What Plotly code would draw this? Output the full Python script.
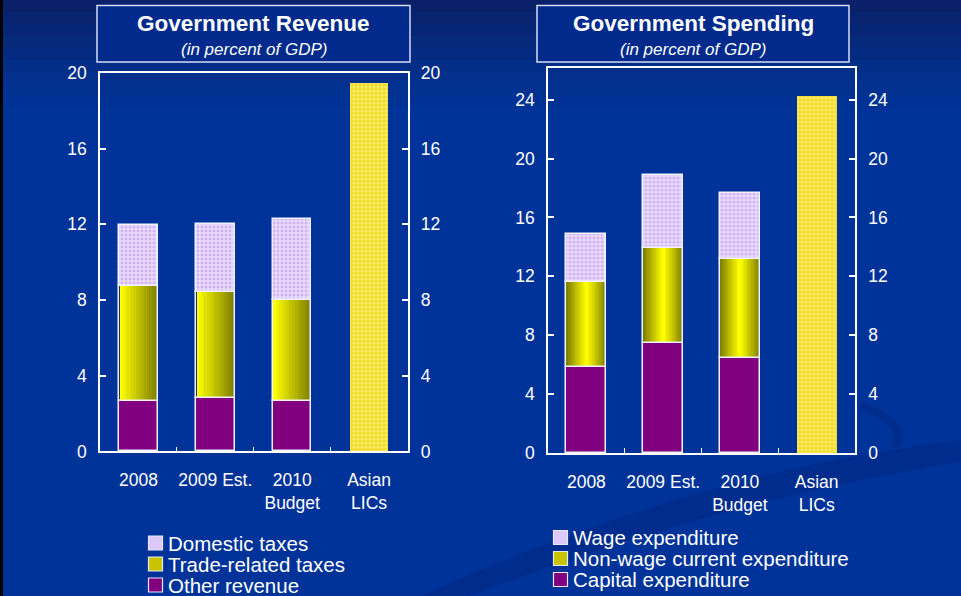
import plotly.graph_objects as go

W, H = 961, 596

# ---- data -------------------------------------------------------------
categories = ["2008", "2009 Est.", "2010<br>Budget", "Asian<br>LICs"]
group_cats = categories[:3]
peer_cat = categories[3:]

# Government revenue (percent of GDP)
rev_other = [2.65, 2.8, 2.65]
rev_trade = [6.1, 5.6, 5.35]
rev_domestic = [3.2, 3.6, 4.3]
rev_asian = [19.45]
rev_ticks = [0, 4, 8, 12, 16, 20]
rev_range = [0, 20]

# Government spending (percent of GDP)
sp_capital = [5.85, 7.45, 6.45]
sp_nonwage = [5.75, 6.5, 6.75]
sp_wage = [3.3, 4.9, 4.45]
sp_asian = [24.25]
sp_ticks = [0, 4, 8, 12, 16, 20, 24]
sp_range = [0, 26.15]

rev_legend = ["Domestic taxes", "Trade-related taxes", "Other revenue"]
sp_legend = ["Wage expenditure", "Non-wage current expenditure", "Capital expenditure"]

# ---- styling ----------------------------------------------------------
FONT = "Liberation Sans, Arial, sans-serif"
BG = "#00339a"
WHITE = "#ffffff"
EDGE = "#f2f2ff"
PURPLE = "#800080"
LAVENDER = "#eadcff"
LAV_DOT = "#b88ae8"
OLIVE = (128, 128, 0)
YELLOW = (255, 255, 0)


def px(x):
    return x / W


def py(y):
    return 1 - y / H


def mix(c1, c2, t):
    return "rgb(%d,%d,%d)" % tuple(round(a + (b - a) * t) for a, b in zip(c1, c2))


fig = go.Figure()


def add_solid(x, y, base, color, xa, ya, bw, pattern=None):
    fig.add_trace(go.Bar(
        x=x, y=y, base=base, width=bw, offset=-bw / 2,
        marker=dict(color=color, line=dict(color=EDGE, width=1.5), pattern=pattern),
        xaxis=xa, yaxis=ya, showlegend=False, hoverinfo="skip"))


def add_gradient(x, y, base, xa, ya, bw, style, steps=14):
    """Shaded segment built from nested bars: 'left' fades yellow->olive
    across the bar, 'cylinder' is olive at both edges, yellow in the middle."""
    for k in range(steps):
        t = k / (steps - 1)
        w = bw * (steps - k) / steps
        if style == "left":
            w = max(w - 0.012, 0.004)
            off = -bw / 2 + 0.012
        else:
            off = -w / 2
        fig.add_trace(go.Bar(
            x=x, y=y, base=base, width=w, offset=off,
            marker=dict(color=mix(OLIVE, YELLOW, t), line=dict(width=0)),
            xaxis=xa, yaxis=ya, showlegend=False, hoverinfo="skip"))
    # outline on top
    fig.add_trace(go.Bar(
        x=x, y=y, base=base, width=bw, offset=-bw / 2,
        marker=dict(color="rgba(0,0,0,0)", line=dict(color=EDGE, width=1.5)),
        xaxis=xa, yaxis=ya, showlegend=False, hoverinfo="skip"))


lav_pattern = dict(shape=".", fgcolor=LAV_DOT, bgcolor=LAVENDER, size=4, solidity=0.45)
peer_pattern = dict(shape=".", fgcolor="#fff6b0", bgcolor="#f2dc2a", size=4, solidity=0.45)

# ---- revenue panel ----
BW1 = 0.5
add_solid(group_cats, rev_other, [0] * 3, PURPLE, "x", "y", BW1)
add_gradient(group_cats, rev_trade, rev_other, "x", "y", BW1, "left")
rev_dom_base = [a + b for a, b in zip(rev_other, rev_trade)]
add_solid(group_cats, rev_domestic, rev_dom_base, LAVENDER, "x", "y", BW1, lav_pattern)
fig.add_trace(go.Bar(x=peer_cat, y=rev_asian, width=BW1, offset=-BW1 / 2,
                     marker=dict(color="#f2dc2a", line=dict(width=0), pattern=peer_pattern),
                     xaxis="x", yaxis="y", showlegend=False, hoverinfo="skip"))

# ---- spending panel ----
BW2 = 0.52
add_solid(group_cats, sp_capital, [0] * 3, PURPLE, "x2", "y2", BW2)
add_gradient(group_cats, sp_nonwage, sp_capital, "x2", "y2", BW2, "cylinder")
sp_wage_base = [a + b for a, b in zip(sp_capital, sp_nonwage)]
add_solid(group_cats, sp_wage, sp_wage_base, LAVENDER, "x2", "y2", BW2, lav_pattern)
fig.add_trace(go.Bar(x=peer_cat, y=sp_asian, width=BW2, offset=-BW2 / 2,
                     marker=dict(color="#f2dc2a", line=dict(width=0), pattern=peer_pattern),
                     xaxis="x2", yaxis="y2", showlegend=False, hoverinfo="skip"))

# invisible anchors so the right-hand value axes get drawn
for xa, ya in (("x", "y3"), ("x2", "y4")):
    fig.add_trace(go.Scatter(x=[categories[0]], y=[0], mode="markers",
                             marker=dict(opacity=0), xaxis=xa, yaxis=ya,
                             showlegend=False, hoverinfo="skip"))

tickfont = dict(family=FONT, size=17.5, color=WHITE)
xcommon = dict(type="category", categoryorder="array", categoryarray=categories,
               range=[-0.5, 3.5], showline=True, linecolor=WHITE, linewidth=1.5,
               mirror=True, ticks="inside", tickson="boundaries", ticklen=5,
               tickcolor=WHITE, tickwidth=1, tickfont=tickfont, showgrid=False,
               tickangle=0, automargin=False,
               ticklabelstandoff=12, fixedrange=True)
ycommon = dict(showline=True, linecolor=WHITE, linewidth=1.5, ticks="inside",
               ticklen=6, tickcolor=WHITE, tickwidth=1.5, tickfont=tickfont,
               showgrid=False, zeroline=False, ticklabelstandoff=8,
               automargin=False, fixedrange=True)

rev_dom_y = [py(451.4), py(73)]
sp_dom_y = [py(453), py(68)]

fig.update_layout(
    width=W, height=H,
    margin=dict(l=0, r=0, t=0, b=0, autoexpand=False),
    paper_bgcolor=BG, plot_bgcolor="rgba(0,0,0,0)",
    barmode="overlay", bargap=0,
    showlegend=False,
    font=dict(family=FONT, color=WHITE),
    xaxis=dict(domain=[px(100), px(407.5)], anchor="y", **xcommon),
    yaxis=dict(domain=rev_dom_y, anchor="x", range=rev_range, tickvals=rev_ticks, **ycommon),
    yaxis3=dict(overlaying="y", side="right", anchor="x", range=rev_range,
                tickvals=rev_ticks, **ycommon),
    xaxis2=dict(domain=[px(548), px(855)], anchor="y2", **xcommon),
    yaxis2=dict(domain=sp_dom_y, anchor="x2", range=sp_range, tickvals=sp_ticks, **ycommon),
    yaxis4=dict(overlaying="y2", side="right", anchor="x2", range=sp_range,
                tickvals=sp_ticks, **ycommon),
)

shapes = []
# darker band across the top of the page
top_cols = ["#0a2068", "#08236f", "#062675", "#05297b", "#042b81", "#032e87",
            "#02308c", "#013191", "#003295", "#003398"]
for i, c in enumerate(top_cols):
    shapes.append(dict(type="rect", xref="paper", yref="paper", layer="below",
                       x0=0, x1=1, y0=py(12 * (i + 1)), y1=py(12 * i),
                       fillcolor=c, line=dict(width=0)))
# faint sweeping band in the lower right
shapes.append(dict(type="path", xref="paper", yref="paper", layer="below",
                   path="M %f %f Q %f %f %f %f L %f %f Q %f %f %f %f Z" % (
                       px(420), py(596), px(700), py(470), px(961), py(440),
                       px(961), py(462), px(720), py(500), px(470), py(596)),
                   fillcolor="#002c8a", line=dict(width=0), opacity=0.8))
shapes.append(dict(type="path", xref="paper", yref="paper", layer="below",
                   path="M %f %f Q %f %f %f %f L %f %f Q %f %f %f %f Z" % (
                       px(860), py(402), px(915), py(420), px(900), py(448),
                       px(892), py(446), px(902), py(424), px(860), py(410)),
                   fillcolor="#002c8a", line=dict(width=0), opacity=0.8))
# dark strip on the left edge
shapes.append(dict(type="rect", xref="paper", yref="paper", layer="below",
                   x0=0, x1=px(3), y0=0, y1=1, fillcolor="#000000", line=dict(width=0)))

# title boxes
annotations = []
for (x0, x1, title) in ((97, 410, "Government Revenue"), (537, 849, "Government Spending")):
    shapes.append(dict(type="rect", xref="paper", yref="paper", layer="above",
                       x0=px(x0), x1=px(x1), y0=py(62), y1=py(5.5),
                       fillcolor="#012a8c", line=dict(color="#d6dcef", width=1.5)))
    cx = px((x0 + x1) / 2)
    annotations.append(dict(xref="paper", yref="paper", x=cx, y=py(23.5),
                            text="<b>%s</b>" % title, showarrow=False,
                            font=dict(family=FONT, size=22.5, color=WHITE),
                            xanchor="center", yanchor="middle"))
    annotations.append(dict(xref="paper", yref="paper", x=cx, y=py(49),
                            text="<i>(in percent of GDP)</i>", showarrow=False,
                            font=dict(family=FONT, size=17, color=WHITE),
                            xanchor="center", yanchor="middle"))


# legends
def legend_block(labels, x_key, x_text, rows, fills):
    for lab, yc, fill in zip(labels, rows, fills):
        shapes.append(dict(type="rect", xref="paper", yref="paper", layer="above",
                           x0=px(x_key), x1=px(x_key + 14), y0=py(yc + 7), y1=py(yc - 7),
                           fillcolor=fill, line=dict(color="#e8e8f4", width=1.2)))
        annotations.append(dict(xref="paper", yref="paper", x=px(x_text), y=py(yc),
                                text=lab, showarrow=False, xanchor="left",
                                yanchor="middle", borderpad=0,
                                font=dict(family=FONT, size=20.5, color=WHITE)))


legend_block(rev_legend, 148.5, 167, [543, 564, 585], ["#dcc8fa", "#c8c400", PURPLE])
legend_block(sp_legend, 553.5, 572, [537.5, 558.5, 579.5], ["#dcc8fa", "#c8c400", PURPLE])

fig.update_layout(shapes=shapes, annotations=annotations)

fig.write_html("out.html")
